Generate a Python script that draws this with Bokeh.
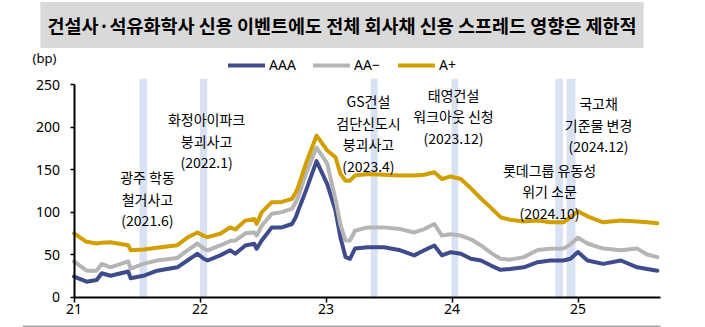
from bokeh.plotting import figure
from bokeh.models import Label, Legend, LegendItem, FixedTicker, BoxAnnotation, ColumnDataSource
from bokeh.core.properties import value
from bokeh.embed import file_html
from bokeh.resources import INLINE

# ---- data (x = year - 2000, decimal) ----
x_years = [21.00, 21.10, 21.18, 21.22, 21.29, 21.43, 21.45, 21.55, 21.66, 21.82, 21.90, 21.98,
           22.03, 22.06, 22.16, 22.24, 22.28, 22.36, 22.43, 22.45, 22.49, 22.57, 22.65, 22.73,
           22.76, 22.78, 22.84, 22.925, 23.01, 23.075, 23.115, 23.155, 23.19, 23.23, 23.33,
           23.46, 23.59, 23.70, 23.78, 23.86, 23.92, 23.99, 24.07, 24.15, 24.23, 24.31, 24.385,
           24.46, 24.57, 24.68, 24.78, 24.885, 24.94, 25.00, 25.075, 25.20, 25.34, 25.47, 25.55,
           25.63]
aaa = [24, 18, 20, 28, 25, 30, 22, 25, 31, 35, 43, 51,
       45, 43, 49, 55, 51, 60.7, 62.7, 56.8, 66.5, 82, 82, 86,
       94, 102, 125, 160, 133, 102, 70, 47, 45, 57, 58.6,
       58.6, 55, 49, 55, 60.7, 49, 52.8, 51, 45, 43, 37, 32,
       33, 35, 41, 43, 43, 45, 53, 43, 39, 43, 35, 33,
       31]
aa_minus = [42, 31, 31, 39, 35, 42, 33.5, 39, 43, 46, 55, 63,
            57, 55, 60.7, 66, 66.5, 75, 76, 72.4, 84, 98, 100, 104,
            111.7, 118, 145, 176, 157, 115, 85, 66.5, 66.5, 78, 82,
            82, 80, 76, 80, 86, 72.4, 74, 72.4, 68, 60.7, 52, 45,
            44, 47, 55.4, 56.8, 57, 62, 70, 63, 57, 55, 57, 50,
            47]
a_plus = [75, 65, 63, 64, 64.5, 61, 55, 56, 58, 61, 70, 76,
          72, 70.5, 74.5, 82, 79.5, 90, 92, 86, 100, 111.7, 112, 115.6,
          123, 130, 157, 190, 172.6, 164.6, 145, 137, 137, 143, 145,
          144, 143, 143, 144, 147, 139, 142, 139, 128, 116, 105, 94,
          91, 89, 90, 88, 88, 94, 101, 95, 88, 90, 89, 88,
          87]

series_names = ["AAA", "AA\u2212", "A+"]
series_colors = ["#3f4c8c", "#b5b5b5", "#d1a000"]

x_ticks = [21, 22, 23, 24, 25]
x_tick_labels = ["21", "22", "23", "24", "25"]
y_ticks = [0, 50, 100, 150, 200, 250]

band_start = [21.52, 22.00, 23.355, 23.996, 24.82, 24.91]
band_end = [21.58, 22.057, 23.41, 24.05, 24.88, 24.98]

event_text = ["광주 학동\n철거사고\n(2021.6)",
              "화정아이파크\n붕괴사고\n(2022.1)",
              "GS건설\n검단신도시\n붕괴사고\n(2023.4)",
              "태영건설\n워크아웃 신청\n(2023.12)",
              "롯데그룹 유동성\n위기 소문\n(2024.10)",
              "국고채\n기준물 변경\n(2024.12)"]
event_x = [21.583, 22.052, 23.337, 24.012, 24.774, 25.163]
event_y = [116, 184, 192.6, 212.6, 124.6, 203]

title_text = "건설사·석유화학사 신용 이벤트에도 전체 회사채 신용 스프레드 영향은 제한적"

KR = "Noto Sans CJK KR"
NUM = "Noto Sans"

W, H = 705, 327
PX_PER_YEAR = 126.0
PX_PER_BP = 0.849
X0_PX = 73.5      # canvas x of year 21
Y0_PX = 296.5     # canvas y of 0 bp

x_start = 21 - X0_PX / PX_PER_YEAR
x_end = 21 + (W - X0_PX) / PX_PER_YEAR
y_start = -(H - Y0_PX) / PX_PER_BP
y_end = Y0_PX / PX_PER_BP

p = figure(width=W, height=H, output_backend="svg", toolbar_location=None,
           x_range=(x_start, x_end), y_range=(y_start, y_end),
           min_border=0, min_border_left=0, min_border_right=0,
           min_border_top=0, min_border_bottom=0)
p.outline_line_color = None
p.xgrid.visible = False
p.ygrid.visible = False
p.background_fill_color = "white"
p.border_fill_color = "white"

# bands
p.quad(left=band_start, right=band_end, bottom=0, top=257, fill_color="#d9e2f3",
       line_color=None)

# lines
renderers = []
for ys, c in zip([aaa, aa_minus, a_plus], series_colors):
    r = p.line(x_years, ys, line_color=c, line_width=4, line_join="round", line_cap="round")
    renderers.append(r)

# axes
xa = p.xaxis[0]
xa.fixed_location = 0
xa.bounds = (21, 25.655)
xa.ticker = FixedTicker(ticks=x_ticks)
xa.major_label_overrides = {t: l for t, l in zip(x_ticks, x_tick_labels)}
xa.minor_tick_line_color = None
xa.major_tick_in = 0
xa.major_tick_out = 5
xa.major_label_standoff = 2
xa.axis_line_width = 2
xa.major_tick_line_width = 1.5
xa.axis_line_color = "black"
xa.major_label_text_font = NUM
xa.major_label_text_font_size = "14px"
xa.major_label_text_color = "black"

ya = p.yaxis[0]
ya.fixed_location = 21
ya.bounds = (0, 250)
ya.ticker = FixedTicker(ticks=y_ticks)
ya.minor_tick_line_color = None
ya.major_tick_in = 0
ya.major_tick_out = 4
ya.major_label_standoff = 10
ya.axis_line_width = 2
ya.major_tick_line_width = 1.5
ya.axis_line_color = "black"
ya.major_label_text_font = NUM
ya.major_label_text_font_size = "14px"
ya.major_label_text_color = "black"

# event annotations
src = ColumnDataSource(dict(x=event_x, y=event_y, t=event_text))
p.text(x="x", y="y", text="t", source=src, text_align="center", text_baseline="middle",
       text_font=value(KR), text_font_size="14px", text_color="black", text_line_height=1.08)

# legend
legend = Legend(items=[LegendItem(label=n, renderers=[r]) for n, r in zip(series_names, renderers)],
                orientation="horizontal", location=(228, H - 74),
                glyph_width=37, glyph_height=16, label_standoff=4, spacing=0, label_width=44,
                padding=0, margin=0, border_line_color=None, background_fill_alpha=0,
                label_text_font=NUM, label_text_font_size="14px", label_text_color="black")
p.add_layout(legend, "center")

# (bp) unit label
p.add_layout(Label(x=32, y=H - 57, x_units="screen", y_units="screen", text="(bp)",
                   text_font=NUM, text_font_size="13px", text_color="black",
                   text_align="left", text_baseline="middle"))

# title box
p.add_layout(Label(x=341.5, y=H - 24.5, x_units="screen", y_units="screen", text=title_text,
                   text_font=KR, text_font_size="18.5px", text_font_style="bold",
                   text_color="black", text_align="center", text_baseline="middle",
                   background_fill_color="#d9d9d9", padding=(7, 10)))

# bottom rule
p.add_layout(BoxAnnotation(left=22, right=660, bottom=0.5, top=2,
                           left_units="screen", right_units="screen",
                           bottom_units="screen", top_units="screen",
                           fill_color="#a6a6a6", fill_alpha=1, line_color=None))

open("out.html", "w").write(file_html(p, INLINE))
